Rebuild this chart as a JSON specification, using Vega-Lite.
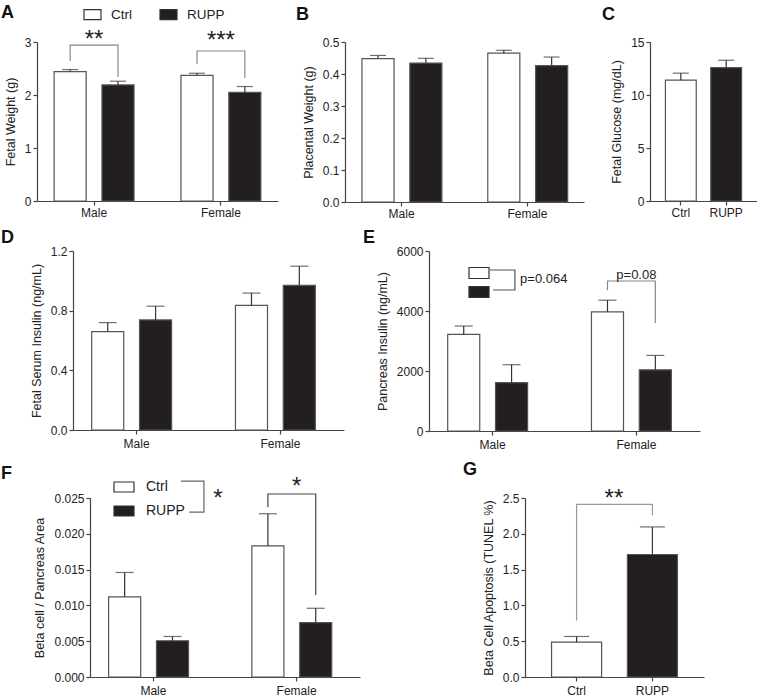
{
 "$schema": "https://vega.github.io/schema/vega-lite/v6.json",
 "padding": {"top": 4, "left": 0, "right": 0, "bottom": 0},
 "background": "white",
 "config": {
  "font": "Liberation Sans",
  "view": {"stroke": null},
  "axis": {"grid": false, "domainColor": "#444", "domainWidth": 1.2, "tickColor": "#444", "tickWidth": 1.2, "tickSize": 4, "labelFontSize": 12, "labelColor": "#222", "labelPadding": 2, "labelOverlap": false, "titleFontSize": 12.5, "titleFontWeight": "normal", "titleColor": "#222", "titlePadding": 7},
  "axisX": {"labelAngle": 0, "title": null},
  "title": {"fontSize": 18, "fontWeight": "bold", "anchor": "start", "frame": "group", "color": "#111", "offset": 4},
  "legend": {"padding": 0}
 },
 "datasets": {
  "A": [
   {"sex": "Male", "group": "Ctrl", "mean": 2.44, "hi": 2.48},
   {"sex": "Male", "group": "RUPP", "mean": 2.19, "hi": 2.26},
   {"sex": "Female", "group": "Ctrl", "mean": 2.37, "hi": 2.41},
   {"sex": "Female", "group": "RUPP", "mean": 2.05, "hi": 2.16}
  ],
  "A_br": [
   {"b": "m", "o": 1, "sex": "Male", "group": "Ctrl", "y": 2.64},
   {"b": "m", "o": 2, "sex": "Male", "group": "Ctrl", "y": 2.94},
   {"b": "m", "o": 3, "sex": "Male", "group": "RUPP", "y": 2.94},
   {"b": "m", "o": 4, "sex": "Male", "group": "RUPP", "y": 2.34},
   {"b": "f", "o": 1, "sex": "Female", "group": "Ctrl", "y": 2.58},
   {"b": "f", "o": 2, "sex": "Female", "group": "Ctrl", "y": 2.83},
   {"b": "f", "o": 3, "sex": "Female", "group": "RUPP", "y": 2.83},
   {"b": "f", "o": 4, "sex": "Female", "group": "RUPP", "y": 2.32}
  ],
  "A_st": [
   {"sex": "Male", "t": "**", "y": 2.9},
   {"sex": "Female", "t": "***", "y": 2.88}
  ],
  "B": [
   {"sex": "Male", "group": "Ctrl", "mean": 0.448, "hi": 0.458},
   {"sex": "Male", "group": "RUPP", "mean": 0.434, "hi": 0.449},
   {"sex": "Female", "group": "Ctrl", "mean": 0.465, "hi": 0.474},
   {"sex": "Female", "group": "RUPP", "mean": 0.426, "hi": 0.453}
  ],
  "C": [
   {"group": "Ctrl", "mean": 11.4, "hi": 12.06},
   {"group": "RUPP", "mean": 12.59, "hi": 13.28}
  ],
  "D": [
   {"sex": "Male", "group": "Ctrl", "mean": 0.66, "hi": 0.72},
   {"sex": "Male", "group": "RUPP", "mean": 0.738, "hi": 0.83},
   {"sex": "Female", "group": "Ctrl", "mean": 0.835, "hi": 0.918},
   {"sex": "Female", "group": "RUPP", "mean": 0.97, "hi": 1.098}
  ],
  "E": [
   {"sex": "Male", "group": "Ctrl", "mean": 3220, "hi": 3500},
   {"sex": "Male", "group": "RUPP", "mean": 1610, "hi": 2210},
   {"sex": "Female", "group": "Ctrl", "mean": 3970, "hi": 4360},
   {"sex": "Female", "group": "RUPP", "mean": 2040, "hi": 2520}
  ],
  "E_br": [
   {"b": "f", "o": 1, "sex": "Female", "group": "Ctrl", "y": 4690},
   {"b": "f", "o": 2, "sex": "Female", "group": "Ctrl", "y": 5000},
   {"b": "f", "o": 3, "sex": "Female", "group": "RUPP", "y": 5000},
   {"b": "f", "o": 4, "sex": "Female", "group": "RUPP", "y": 3600}
  ],
  "E_txt": [{"sex": "Female", "t": "p=0.08", "y": 5083}],
  "E_lbr": [
   {"o": 1, "xa": 0.225, "y": 5367},
   {"o": 2, "xa": 0.317, "y": 5367},
   {"o": 3, "xa": 0.317, "y": 4700},
   {"o": 4, "xa": 0.236, "y": 4700}
  ],
  "E_ltxt": [{"xa": 0.336, "y": 4950, "t": "p=0.064"}],
  "F": [
   {"sex": "Male", "group": "Ctrl", "mean": 0.0112, "hi": 0.0146},
   {"sex": "Male", "group": "RUPP", "mean": 0.00506, "hi": 0.00566},
   {"sex": "Female", "group": "Ctrl", "mean": 0.0183, "hi": 0.0228},
   {"sex": "Female", "group": "RUPP", "mean": 0.0076, "hi": 0.0096}
  ],
  "F_br": [
   {"b": "f", "o": 1, "sex": "Female", "group": "Ctrl", "y": 0.0237},
   {"b": "f", "o": 2, "sex": "Female", "group": "Ctrl", "y": 0.02556},
   {"b": "f", "o": 3, "sex": "Female", "group": "RUPP", "y": 0.02556},
   {"b": "f", "o": 4, "sex": "Female", "group": "RUPP", "y": 0.01145}
  ],
  "F_st": [{"sex": "Female", "t": "*", "y": 0.02556}],
  "F_lbr": [
   {"o": 1, "xa": 0.337, "y": 0.02737},
   {"o": 2, "xa": 0.422, "y": 0.02737},
   {"o": 3, "xa": 0.422, "y": 0.02304},
   {"o": 4, "xa": 0.367, "y": 0.02304}
  ],
  "F_lst": [{"xa": 0.474, "y": 0.02388, "t": "*"}],
  "G": [
   {"group": "Ctrl", "mean": 0.487, "hi": 0.566},
   {"group": "RUPP", "mean": 1.711, "hi": 2.096}
  ],
  "G_br": [
   {"o": 1, "group": "Ctrl", "y": 0.79},
   {"o": 2, "group": "Ctrl", "y": 2.41},
   {"o": 3, "group": "RUPP", "y": 2.41},
   {"o": 4, "group": "RUPP", "y": 2.26}
  ],
  "G_st": [{"xa": 0.497, "y": 2.39, "t": "**"}],
  "dummy": [{"k": 0}]
 },
 "columns": 1,
 "spacing": 10,
 "align": "none",
 "resolve": {"scale": {"fill": "independent"}, "legend": {"fill": "independent"}},
 "concat": [
  {
   "spacing": 0,
   "resolve": {"scale": {"fill": "independent"}, "legend": {"fill": "independent"}},
   "hconcat": [
    {"width": 1, "height": 1, "data": {"name": "dummy"}, "mark": {"type": "text", "text": ""}},
    {
     "spacing": 18,
     "resolve": {"scale": {"fill": "independent"}, "legend": {"fill": "independent"}},
     "hconcat": [
      {
       "width": 241, "height": 159,
       "title": {"text": "A", "dx": -36, "dy": 21},
       "layer": [
        {"data": {"name": "A"}, "mark": {"type": "bar", "stroke": "#555", "strokeWidth": 1.2},
         "encoding": {
          "x": {"field": "sex", "type": "nominal", "sort": ["Male", "Female"], "scale": {"paddingInner": 0.37, "paddingOuter": 0.135}, "axis": {"title": null}},
          "xOffset": {"field": "group", "type": "nominal", "sort": ["Ctrl", "RUPP"], "scale": {"paddingInner": 0.33}},
          "y": {"field": "mean", "type": "quantitative", "title": "Fetal Weight (g)", "scale": {"domain": [0, 3], "nice": false}, "axis": {"values": [0, 1, 2, 3], "tickCount": 20, "format": "d", "labelOverlap": false}},
          "fill": {"field": "group", "type": "nominal", "scale": {"domain": ["Ctrl", "RUPP"], "range": ["#ffffff", "#231f20"]},
           "legend": {"orient": "none", "direction": "horizontal", "legendX": 46, "legendY": -37, "title": null, "symbolType": "M-1,-0.59H1V0.59H-1Z", "symbolSize": 289, "symbolStrokeColor": "#333", "symbolStrokeWidth": 1.2, "labelFontSize": 13.5, "labelOffset": 9, "columnPadding": 25, "labelColor": "#222"}}
         }},
        {"data": {"name": "A"}, "mark": {"type": "rule", "color": "#333", "strokeWidth": 1.2},
         "encoding": {"x": {"field": "sex", "type": "nominal", "sort": ["Male", "Female"]}, "xOffset": {"field": "group", "type": "nominal", "sort": ["Ctrl", "RUPP"]}, "y": {"field": "mean", "type": "quantitative", "title": "Fetal Weight (g)"}, "y2": {"field": "hi"}}},
        {"data": {"name": "A"}, "mark": {"type": "tick", "size": 16, "thickness": 1.2, "color": "#333"},
         "encoding": {"x": {"field": "sex", "type": "nominal", "sort": ["Male", "Female"]}, "xOffset": {"field": "group", "type": "nominal", "sort": ["Ctrl", "RUPP"]}, "y": {"field": "hi", "type": "quantitative", "title": "Fetal Weight (g)"}}},
        {"data": {"name": "A_br"}, "mark": {"type": "line", "color": "#888", "strokeWidth": 1.2},
         "encoding": {"x": {"field": "sex", "type": "nominal", "sort": ["Male", "Female"]}, "xOffset": {"field": "group", "type": "nominal", "sort": ["Ctrl", "RUPP"]}, "y": {"field": "y", "type": "quantitative", "title": "Fetal Weight (g)"}, "detail": {"field": "b"}, "order": {"field": "o", "type": "quantitative"}}},
        {"data": {"name": "A_st"}, "mark": {"type": "text", "fontSize": 24, "baseline": "alphabetic", "color": "#222"},
         "encoding": {"x": {"field": "sex", "type": "nominal", "sort": ["Male", "Female"]}, "y": {"field": "y", "type": "quantitative", "title": "Fetal Weight (g)"}, "text": {"field": "t"}}}
       ]
      },
      {
       "width": 239, "height": 160,
       "title": {"text": "B", "dx": -49, "dy": -8},
       "layer": [
        {"data": {"name": "B"}, "mark": {"type": "bar", "stroke": "#555", "strokeWidth": 1.2},
         "encoding": {
          "x": {"field": "sex", "type": "nominal", "sort": ["Male", "Female"], "scale": {"paddingInner": 0.37, "paddingOuter": 0.135}, "axis": {"title": null}},
          "xOffset": {"field": "group", "type": "nominal", "sort": ["Ctrl", "RUPP"], "scale": {"paddingInner": 0.33}},
          "y": {"field": "mean", "type": "quantitative", "title": "Placental Weight (g)", "scale": {"domain": [0, 0.5], "nice": false}, "axis": {"values": [0, 0.1, 0.2, 0.3, 0.4, 0.5], "tickCount": 20, "format": ".1f", "labelOverlap": false}},
          "fill": {"field": "group", "type": "nominal", "scale": {"domain": ["Ctrl", "RUPP"], "range": ["#ffffff", "#231f20"]}, "legend": null}
         }},
        {"data": {"name": "B"}, "mark": {"type": "rule", "color": "#333", "strokeWidth": 1.2},
         "encoding": {"x": {"field": "sex", "type": "nominal", "sort": ["Male", "Female"]}, "xOffset": {"field": "group", "type": "nominal", "sort": ["Ctrl", "RUPP"]}, "y": {"field": "mean", "type": "quantitative", "title": "Placental Weight (g)"}, "y2": {"field": "hi"}}},
        {"data": {"name": "B"}, "mark": {"type": "tick", "size": 16, "thickness": 1.2, "color": "#333"},
         "encoding": {"x": {"field": "sex", "type": "nominal", "sort": ["Male", "Female"]}, "xOffset": {"field": "group", "type": "nominal", "sort": ["Ctrl", "RUPP"]}, "y": {"field": "hi", "type": "quantitative", "title": "Placental Weight (g)"}}}
       ]
      },
      {
       "width": 107, "height": 159,
       "title": {"text": "C", "dx": -48, "dy": -8},
       "layer": [
        {"data": {"name": "C"}, "mark": {"type": "bar", "stroke": "#555", "strokeWidth": 1.2},
         "encoding": {
          "x": {"field": "group", "type": "nominal", "sort": ["Ctrl", "RUPP"], "scale": {"paddingInner": 0.32, "paddingOuter": 0.34}, "axis": {"title": null}},
          "y": {"field": "mean", "type": "quantitative", "title": "Fetal Glucose (mg/dL)", "scale": {"domain": [0, 15], "nice": false}, "axis": {"values": [0, 5, 10, 15], "tickCount": 20, "format": "d", "labelOverlap": false}},
          "fill": {"field": "group", "type": "nominal", "scale": {"domain": ["Ctrl", "RUPP"], "range": ["#ffffff", "#231f20"]}, "legend": null}
         }},
        {"data": {"name": "C"}, "mark": {"type": "rule", "color": "#333", "strokeWidth": 1.2},
         "encoding": {"x": {"field": "group", "type": "nominal", "sort": ["Ctrl", "RUPP"]}, "y": {"field": "mean", "type": "quantitative", "title": "Fetal Glucose (mg/dL)"}, "y2": {"field": "hi"}}},
        {"data": {"name": "C"}, "mark": {"type": "tick", "size": 16, "thickness": 1.2, "color": "#333"},
         "encoding": {"x": {"field": "group", "type": "nominal", "sort": ["Ctrl", "RUPP"]}, "y": {"field": "hi", "type": "quantitative", "title": "Fetal Glucose (mg/dL)"}}}
       ]
      }
     ]
    }
   ]
  },
  {
   "spacing": 0,
   "resolve": {"scale": {"fill": "independent"}, "legend": {"fill": "independent"}},
   "hconcat": [
    {"width": 1, "height": 1, "data": {"name": "dummy"}, "mark": {"type": "text", "text": ""}},
    {
     "spacing": 19,
     "resolve": {"scale": {"fill": "independent"}, "legend": {"fill": "independent"}},
     "hconcat": [
      {
       "width": 271, "height": 179,
       "title": {"text": "D", "dx": -72, "dy": 6},
       "layer": [
        {"data": {"name": "D"}, "mark": {"type": "bar", "stroke": "#555", "strokeWidth": 1.2},
         "encoding": {
          "x": {"field": "sex", "type": "nominal", "sort": ["Male", "Female"], "scale": {"paddingInner": 0.375, "paddingOuter": 0.13}, "axis": {"title": null, "labelPadding": 4}},
          "xOffset": {"field": "group", "type": "nominal", "sort": ["Ctrl", "RUPP"], "scale": {"paddingInner": 0.32}},
          "y": {"field": "mean", "type": "quantitative", "title": "Fetal Serum Insulin (ng/mL)", "scale": {"domain": [0, 1.2], "nice": false}, "axis": {"values": [0, 0.4, 0.8, 1.2], "tickCount": 20, "format": ".1f", "labelOverlap": false}},
          "fill": {"field": "group", "type": "nominal", "scale": {"domain": ["Ctrl", "RUPP"], "range": ["#ffffff", "#231f20"]}, "legend": null}
         }},
        {"data": {"name": "D"}, "mark": {"type": "rule", "color": "#333", "strokeWidth": 1.2},
         "encoding": {"x": {"field": "sex", "type": "nominal", "sort": ["Male", "Female"]}, "xOffset": {"field": "group", "type": "nominal", "sort": ["Ctrl", "RUPP"]}, "y": {"field": "mean", "type": "quantitative", "title": "Fetal Serum Insulin (ng/mL)"}, "y2": {"field": "hi"}}},
        {"data": {"name": "D"}, "mark": {"type": "tick", "size": 18, "thickness": 1.2, "color": "#333"},
         "encoding": {"x": {"field": "sex", "type": "nominal", "sort": ["Male", "Female"]}, "xOffset": {"field": "group", "type": "nominal", "sort": ["Ctrl", "RUPP"]}, "y": {"field": "hi", "type": "quantitative", "title": "Fetal Serum Insulin (ng/mL)"}}}
       ]
      },
      {
       "width": 271, "height": 180,
       "title": {"text": "E", "dx": -66, "dy": 6},
       "resolve": {"scale": {"x": "independent"}},
       "layer": [
        {
         "layer": [
          {"data": {"name": "E"}, "mark": {"type": "bar", "stroke": "#555", "strokeWidth": 1.2},
           "encoding": {
            "x": {"field": "sex", "type": "nominal", "sort": ["Male", "Female"], "scale": {"paddingInner": 0.375, "paddingOuter": 0.13}, "axis": {"title": null, "labelPadding": 4}},
            "xOffset": {"field": "group", "type": "nominal", "sort": ["Ctrl", "RUPP"], "scale": {"paddingInner": 0.32}},
            "y": {"field": "mean", "type": "quantitative", "title": "Pancreas Insulin (ng/mL)", "scale": {"domain": [0, 6000], "nice": false}, "axis": {"values": [0, 2000, 4000, 6000], "tickCount": 20, "format": "d", "labelOverlap": false}},
            "fill": {"field": "group", "type": "nominal", "scale": {"domain": ["Ctrl", "RUPP"], "range": ["#ffffff", "#231f20"]},
             "legend": {"orient": "none", "direction": "vertical", "legendX": 39, "legendY": 11, "title": null, "symbolType": "M-1,-0.55H1V0.55H-1Z", "symbolSize": 400, "symbolStrokeColor": "#333", "symbolStrokeWidth": 1.2, "labelExpr": "''", "rowPadding": -1}}
           }},
          {"data": {"name": "E"}, "mark": {"type": "rule", "color": "#333", "strokeWidth": 1.2},
           "encoding": {"x": {"field": "sex", "type": "nominal", "sort": ["Male", "Female"]}, "xOffset": {"field": "group", "type": "nominal", "sort": ["Ctrl", "RUPP"]}, "y": {"field": "mean", "type": "quantitative", "title": "Pancreas Insulin (ng/mL)"}, "y2": {"field": "hi"}}},
          {"data": {"name": "E"}, "mark": {"type": "tick", "size": 18, "thickness": 1.2, "color": "#333"},
           "encoding": {"x": {"field": "sex", "type": "nominal", "sort": ["Male", "Female"]}, "xOffset": {"field": "group", "type": "nominal", "sort": ["Ctrl", "RUPP"]}, "y": {"field": "hi", "type": "quantitative", "title": "Pancreas Insulin (ng/mL)"}}},
          {"data": {"name": "E_br"}, "mark": {"type": "line", "color": "#888", "strokeWidth": 1.2},
           "encoding": {"x": {"field": "sex", "type": "nominal", "sort": ["Male", "Female"]}, "xOffset": {"field": "group", "type": "nominal", "sort": ["Ctrl", "RUPP"]}, "y": {"field": "y", "type": "quantitative", "title": "Pancreas Insulin (ng/mL)"}, "detail": {"field": "b"}, "order": {"field": "o", "type": "quantitative"}}},
          {"data": {"name": "E_txt"}, "mark": {"type": "text", "fontSize": 13, "baseline": "alphabetic", "color": "#222"},
           "encoding": {"x": {"field": "sex", "type": "nominal", "sort": ["Male", "Female"]}, "y": {"field": "y", "type": "quantitative", "title": "Pancreas Insulin (ng/mL)"}, "text": {"field": "t"}}}
         ]
        },
        {
         "layer": [
          {"data": {"name": "E_lbr"}, "mark": {"type": "line", "color": "#555", "strokeWidth": 1.2},
           "encoding": {"x": {"field": "xa", "type": "quantitative", "scale": {"domain": [0, 1]}, "axis": null}, "y": {"field": "y", "type": "quantitative", "title": "Pancreas Insulin (ng/mL)"}, "order": {"field": "o", "type": "quantitative"}}},
          {"data": {"name": "E_ltxt"}, "mark": {"type": "text", "fontSize": 13, "baseline": "alphabetic", "align": "left", "color": "#222"},
           "encoding": {"x": {"field": "xa", "type": "quantitative", "scale": {"domain": [0, 1]}, "axis": null}, "y": {"field": "y", "type": "quantitative", "title": "Pancreas Insulin (ng/mL)"}, "text": {"field": "t"}}}
         ]
        }
       ]
      }
     ]
    }
   ]
  },
  {
   "spacing": 0,
   "resolve": {"scale": {"fill": "independent"}, "legend": {"fill": "independent"}},
   "hconcat": [
    {"width": 1, "height": 1, "data": {"name": "dummy"}, "mark": {"type": "text", "text": ""}},
    {
     "spacing": 103,
     "resolve": {"scale": {"fill": "independent"}, "legend": {"fill": "independent"}},
     "hconcat": [
      {
       "width": 270, "height": 179,
       "title": {"text": "F", "dx": -89, "dy": 12},
       "resolve": {"scale": {"x": "independent"}},
       "layer": [
        {
         "layer": [
          {"data": {"name": "F"}, "mark": {"type": "bar", "stroke": "#555", "strokeWidth": 1.2},
           "encoding": {
            "x": {"field": "sex", "type": "nominal", "sort": ["Male", "Female"], "scale": {"paddingInner": 0.375, "paddingOuter": 0.13}, "axis": {"title": null, "labelPadding": 4}},
            "xOffset": {"field": "group", "type": "nominal", "sort": ["Ctrl", "RUPP"], "scale": {"paddingInner": 0.32}},
            "y": {"field": "mean", "type": "quantitative", "title": "Beta cell / Pancreas Area", "scale": {"domain": [0, 0.025], "nice": false}, "axis": {"values": [0, 0.005, 0.01, 0.015, 0.02, 0.025], "tickCount": 20, "format": ".3f", "labelOverlap": false}},
            "fill": {"field": "group", "type": "nominal", "scale": {"domain": ["Ctrl", "RUPP"], "range": ["#ffffff", "#231f20"]},
             "legend": {"orient": "none", "direction": "vertical", "legendX": 23, "legendY": -22, "title": null, "symbolType": "M-1,-0.5H1V0.5H-1Z", "symbolSize": 400, "symbolStrokeColor": "#333", "symbolStrokeWidth": 1.2, "labelFontSize": 14, "labelOffset": 11, "rowPadding": 5, "labelColor": "#222"}}
           }},
          {"data": {"name": "F"}, "mark": {"type": "rule", "color": "#333", "strokeWidth": 1.2},
           "encoding": {"x": {"field": "sex", "type": "nominal", "sort": ["Male", "Female"]}, "xOffset": {"field": "group", "type": "nominal", "sort": ["Ctrl", "RUPP"]}, "y": {"field": "mean", "type": "quantitative", "title": "Beta cell / Pancreas Area"}, "y2": {"field": "hi"}}},
          {"data": {"name": "F"}, "mark": {"type": "tick", "size": 18, "thickness": 1.2, "color": "#333"},
           "encoding": {"x": {"field": "sex", "type": "nominal", "sort": ["Male", "Female"]}, "xOffset": {"field": "group", "type": "nominal", "sort": ["Ctrl", "RUPP"]}, "y": {"field": "hi", "type": "quantitative", "title": "Beta cell / Pancreas Area"}}},
          {"data": {"name": "F_br"}, "mark": {"type": "line", "color": "#444", "strokeWidth": 1.2},
           "encoding": {"x": {"field": "sex", "type": "nominal", "sort": ["Male", "Female"]}, "xOffset": {"field": "group", "type": "nominal", "sort": ["Ctrl", "RUPP"]}, "y": {"field": "y", "type": "quantitative", "title": "Beta cell / Pancreas Area"}, "detail": {"field": "b"}, "order": {"field": "o", "type": "quantitative"}}},
          {"data": {"name": "F_st"}, "mark": {"type": "text", "fontSize": 24, "baseline": "alphabetic", "color": "#222"},
           "encoding": {"x": {"field": "sex", "type": "nominal", "sort": ["Male", "Female"]}, "y": {"field": "y", "type": "quantitative", "title": "Beta cell / Pancreas Area"}, "text": {"field": "t"}}}
         ]
        },
        {
         "layer": [
          {"data": {"name": "F_lbr"}, "mark": {"type": "line", "color": "#666", "strokeWidth": 1.2},
           "encoding": {"x": {"field": "xa", "type": "quantitative", "scale": {"domain": [0, 1]}, "axis": null}, "y": {"field": "y", "type": "quantitative", "title": "Beta cell / Pancreas Area"}, "order": {"field": "o", "type": "quantitative"}}},
          {"data": {"name": "F_lst"}, "mark": {"type": "text", "fontSize": 24, "baseline": "alphabetic", "color": "#222"},
           "encoding": {"x": {"field": "xa", "type": "quantitative", "scale": {"domain": [0, 1]}, "axis": null}, "y": {"field": "y", "type": "quantitative", "title": "Beta cell / Pancreas Area"}, "text": {"field": "t"}}}
         ]
        }
       ]
      },
      {
       "width": 179, "height": 179,
       "title": {"text": "G", "dx": -62, "dy": -4},
       "resolve": {"scale": {"x": "independent"}},
       "layer": [
        {
         "layer": [
          {"data": {"name": "G"}, "mark": {"type": "bar", "stroke": "#555", "strokeWidth": 1.2},
           "encoding": {
            "x": {"field": "group", "type": "nominal", "sort": ["Ctrl", "RUPP"], "scale": {"paddingInner": 0.34, "paddingOuter": 0.35}, "axis": {"title": null, "labelPadding": 4}},
            "y": {"field": "mean", "type": "quantitative", "title": "Beta Cell Apoptosis (TUNEL %)", "scale": {"domain": [0, 2.5], "nice": false}, "axis": {"values": [0, 0.5, 1, 1.5, 2, 2.5], "tickCount": 20, "format": ".1f", "labelOverlap": false}},
            "fill": {"field": "group", "type": "nominal", "scale": {"domain": ["Ctrl", "RUPP"], "range": ["#ffffff", "#231f20"]}, "legend": null}
           }},
          {"data": {"name": "G"}, "mark": {"type": "rule", "color": "#333", "strokeWidth": 1.2},
           "encoding": {"x": {"field": "group", "type": "nominal", "sort": ["Ctrl", "RUPP"]}, "y": {"field": "mean", "type": "quantitative", "title": "Beta Cell Apoptosis (TUNEL %)"}, "y2": {"field": "hi"}}},
          {"data": {"name": "G"}, "mark": {"type": "tick", "size": 25, "thickness": 1.2, "color": "#333"},
           "encoding": {"x": {"field": "group", "type": "nominal", "sort": ["Ctrl", "RUPP"]}, "y": {"field": "hi", "type": "quantitative", "title": "Beta Cell Apoptosis (TUNEL %)"}}},
          {"data": {"name": "G_br"}, "mark": {"type": "line", "color": "#999", "strokeWidth": 1.2},
           "encoding": {"x": {"field": "group", "type": "nominal", "sort": ["Ctrl", "RUPP"]}, "y": {"field": "y", "type": "quantitative", "title": "Beta Cell Apoptosis (TUNEL %)"}, "order": {"field": "o", "type": "quantitative"}}}
         ]
        },
        {"data": {"name": "G_st"}, "mark": {"type": "text", "fontSize": 24, "baseline": "alphabetic", "color": "#222"},
         "encoding": {"x": {"field": "xa", "type": "quantitative", "scale": {"domain": [0, 1]}, "axis": null}, "y": {"field": "y", "type": "quantitative", "title": "Beta Cell Apoptosis (TUNEL %)"}, "text": {"field": "t"}}}
       ]
      }
     ]
    }
   ]
  }
 ]
}
